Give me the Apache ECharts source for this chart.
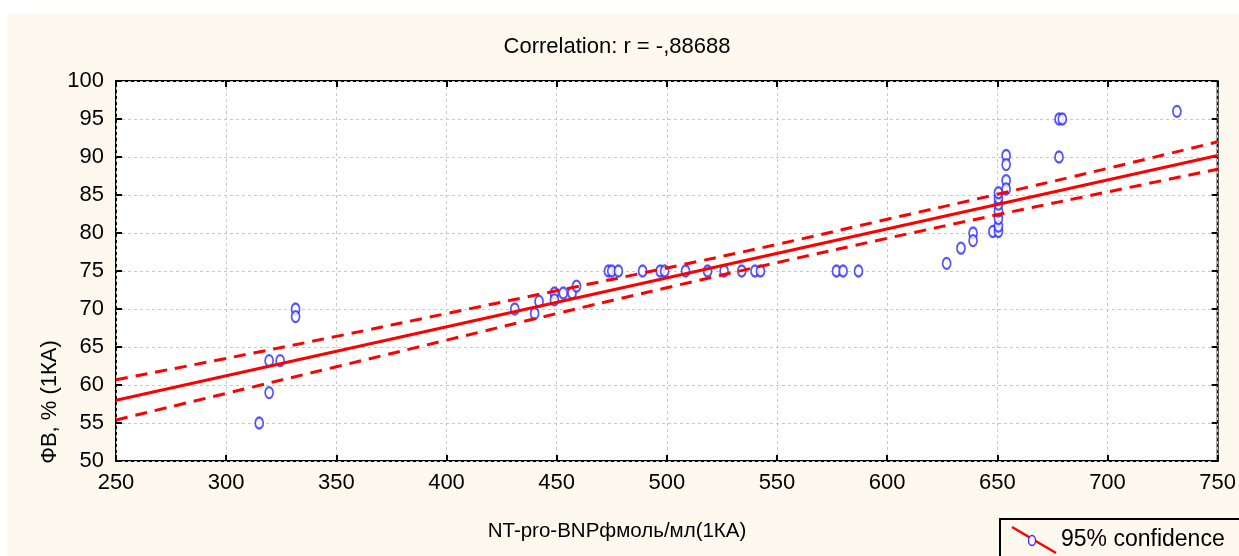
<!DOCTYPE html>
<html>
<head>
<meta charset="utf-8">
<script src="https://cdn.jsdelivr.net/npm/echarts@6/dist/echarts.min.js"></script>
<style>
html, body { margin: 0; padding: 0; background: #fff; }
#chart { width: 1239px; height: 556px; }
</style>
</head>
<body>
<div id="chart"></div>
<script>
// observed points: NT-pro-BNP (x) vs FV % (y)
var ptX = [315, 319.5, 319.5, 324.5, 331.5, 331.5, 431, 440, 442, 449, 449, 453, 457, 459,
  473.5, 475, 478, 489, 497, 499, 508.5, 518.5, 526, 534, 540, 542.5, 577, 580, 587,
  627, 633.5, 639, 639, 648, 650.5, 650.5, 650.5, 650.5, 650.5, 650.5, 650.5,
  654, 654, 654, 654, 678, 679.5, 678, 731.5];
var ptY = [55, 59, 63.2, 63.2, 70, 69, 70, 69.4, 71, 72.1, 71.2, 72.1, 72.1, 73,
  75, 75, 75, 75, 75, 75, 75, 75, 75, 75, 75, 75, 75, 75, 75,
  76, 78, 80, 79, 80.2, 80.2, 80.9, 81.9, 82.9, 83.8, 84.6, 85.3,
  90.2, 89, 86.9, 85.8, 95, 95, 90, 96];

// regression line and 95% band
var fitX = [250, 750];
var fitY = [58.0, 90.2];
var bandX = [250, 300, 350, 400, 450, 500, 550, 600, 650, 700, 750];
var bandHi = [60.7, 63.5, 66.4, 69.4, 72.4, 75.4, 78.5, 81.8, 85.1, 88.5, 92.0];
var bandLo = [55.4, 58.9, 62.4, 65.9, 69.4, 72.8, 76.1, 79.3, 82.4, 85.4, 88.4];

var titleText = 'Correlation: r = -,88688';
var xName = 'NT-pro-BNPфмоль/мл(1КА)';
var yName = 'ФВ, % (1КА)';
var legendText = '95% confidence';

function pairs(xs, ys) {
  var out = [];
  for (var i = 0; i < xs.length; i++) out.push([xs[i], ys[i]]);
  return out;
}

var FONT = 'Liberation Sans, Arial, sans-serif';
var RED = '#ff0000';
var BLUE = '#2b2bff';
var CREAM = '#fef9ef';

var chart = echarts.init(document.getElementById('chart'), null, {renderer: 'canvas'});

var tickStyle = {show: true, inside: true, length: 6, lineStyle: {color: '#000', width: 2}};
var gridLine = {show: true, lineStyle: {color: '#c8c8c8', type: [3, 3], width: 1}};

var option = {
  animation: false,
  backgroundColor: '#fff',
  grid: {
    left: 116, right: 21, top: 81, bottom: 95,
    show: true, backgroundColor: '#fff', borderColor: '#000', borderWidth: 2
  },
  xAxis: [
    {
      type: 'value', min: 250, max: 750, interval: 50, position: 'bottom',
      axisLine: {show: false}, axisTick: tickStyle, splitLine: gridLine,
      axisLabel: {color: '#000', fontSize: 22, fontFamily: FONT, margin: 11}
    },
    {
      type: 'value', min: 250, max: 750, interval: 50, position: 'top',
      axisLine: {show: false}, axisTick: tickStyle, splitLine: {show: false},
      axisLabel: {show: false}
    }
  ],
  yAxis: [
    {
      type: 'value', min: 50, max: 100, interval: 5, position: 'left',
      axisLine: {show: false}, axisTick: tickStyle, splitLine: gridLine,
      axisLabel: {color: '#000', fontSize: 22, fontFamily: FONT, margin: 12}
    },
    {
      type: 'value', min: 50, max: 100, interval: 5, position: 'right',
      axisLine: {show: false}, axisTick: tickStyle, splitLine: {show: false},
      axisLabel: {show: false}
    }
  ],
  graphic: [
    {type: 'rect', z: -10, silent: true, shape: {x: 7, y: 13, width: 1240, height: 560}, style: {fill: CREAM}},
    {type: 'text', x: 617, y: 47, style: {text: titleText, font: '22px ' + FONT, fill: '#000', align: 'center', verticalAlign: 'middle'}},
    {type: 'text', x: 617, y: 531, style: {text: xName, font: '20.5px ' + FONT, fill: '#000', align: 'center', verticalAlign: 'middle'}},
    {type: 'text', x: 50, y: 402, rotation: Math.PI / 2, style: {text: yName, font: '22px ' + FONT, fill: '#000', align: 'center', verticalAlign: 'middle'}},
    {
      type: 'group', children: [
        {type: 'rect', shape: {x: 1000, y: 519, width: 260, height: 50}, style: {fill: CREAM, stroke: '#000', lineWidth: 2}},
        {type: 'line', shape: {x1: 1012, y1: 527, x2: 1056, y2: 553}, style: {stroke: RED, lineWidth: 2.5}},
        {type: 'ellipse', shape: {cx: 1032, cy: 540.5, rx: 3.5, ry: 5}, style: {fill: CREAM, stroke: BLUE, lineWidth: 1.3}},
        {type: 'text', x: 1061, y: 540, style: {text: legendText, font: '23px ' + FONT, fill: '#000', verticalAlign: 'middle'}}
      ]
    }
  ],
  series: [
    {
      type: 'scatter', data: pairs(ptX, ptY), symbol: 'emptyCircle', symbolSize: [8, 11],
      itemStyle: {color: BLUE, borderColor: BLUE, borderWidth: 1.3}
    },
    {
      type: 'line', data: pairs(fitX, fitY), symbol: 'none',
      lineStyle: {color: RED, width: 3}
    },
    {
      type: 'line', data: pairs(bandX, bandHi), symbol: 'none', smooth: true,
      lineStyle: {color: RED, width: 3, type: [12, 8]}
    },
    {
      type: 'line', data: pairs(bandX, bandLo), symbol: 'none', smooth: true,
      lineStyle: {color: RED, width: 3, type: [12, 8]}
    }
  ]
};

chart.setOption(option);
</script>
</body>
</html>
